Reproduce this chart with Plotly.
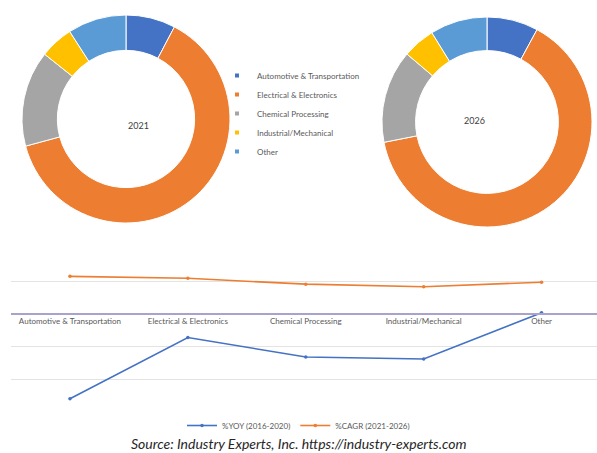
import plotly.graph_objects as go

categories = ["Automotive & Transportation", "Electrical & Electronics", "Chemical Processing",
              "Industrial/Mechanical", "Other"]
share_2021 = [7.7, 63.1, 14.9, 5.2, 9.1]
share_2026 = [7.9, 64.0, 14.3, 5.0, 8.8]
yoy_2016_2020 = [-13.0, -3.6, -6.6, -6.9, 0.2]
cagr_2021_2026 = [5.8, 5.5, 4.6, 4.2, 4.9]
slice_colors = ["#4472c4", "#ed7d31", "#a5a5a5", "#ffc000", "#5b9bd5"]

W, H = 597, 453
def px_x(a, b):
    return [a / W, b / W]
def px_y(top, bottom):
    return [(H - bottom) / H, (H - top) / H]

fig = go.Figure()

for vals, dx, dy, hole in [(share_2021, px_x(22, 230), px_y(15, 223), 0.66),
                           (share_2026, px_x(382, 592), px_y(17, 227), 0.68)]:
    fig.add_trace(go.Pie(
        labels=categories, values=vals, hole=hole, sort=False,
        direction="clockwise", rotation=0, textinfo="none", hoverinfo="label+percent",
        marker=dict(colors=slice_colors, line=dict(color="white", width=1)),
        domain=dict(x=dx, y=dy), showlegend=False,
    ))

# legend entries for the donut categories (small square markers)
for cat, col in zip(categories, slice_colors):
    fig.add_trace(go.Scatter(
        x=[None], y=[None], mode="markers", name=cat,
        marker=dict(symbol="square", size=4, color=col),
        legend="legend", hoverinfo="skip",
    ))

fig.add_trace(go.Scatter(
    x=categories, y=yoy_2016_2020, mode="lines+markers", name="%YOY (2016-2020)",
    line=dict(color="#4472c4", width=1.6), marker=dict(size=3.5, color="#4472c4"),
    legend="legend2",
))
fig.add_trace(go.Scatter(
    x=categories, y=cagr_2021_2026, mode="lines+markers", name="%CAGR (2021-2026)",
    line=dict(color="#ed7d31", width=1.6), marker=dict(size=3.5, color="#ed7d31"),
    legend="legend2",
))

ydom = px_y(248.5, 412.2)
ymin, ymax = -15.08, 10.08
zero_pos = ydom[0] + (0 - ymin) / (ymax - ymin) * (ydom[1] - ydom[0])

fig.update_layout(
    width=W, height=H, margin=dict(l=0, r=0, t=0, b=0, autoexpand=False),
    paper_bgcolor="white", plot_bgcolor="white",
    font=dict(family="Lato, sans-serif", color="#595959"),
    xaxis=dict(type="category", categoryorder="array", categoryarray=categories,
               domain=[11 / W, 1], range=[-0.5, 4.47], anchor="free", position=zero_pos,
               showline=True, linecolor="#a9a3cc", linewidth=1.5, showgrid=False,
               ticks="", tickfont=dict(size=8, color="#595959"), fixedrange=True,
               automargin=False),
    yaxis=dict(domain=ydom, range=[ymin, ymax], dtick=5, tick0=0, showgrid=True,
               gridcolor="#e3e3e3", gridwidth=1, zeroline=False, showticklabels=False,
               ticks="", fixedrange=True, automargin=False),
    legend=dict(x=217 / W, y=(H - 61) / H, xanchor="left", yanchor="top",
                font=dict(size=8, color="#595959"), bgcolor="rgba(0,0,0,0)",
                itemwidth=30, tracegroupgap=0),
    legend2=dict(orientation="h", x=0.5, xanchor="center", y=(H - 411) / H, yanchor="top",
                 font=dict(size=8, color="#595959"), bgcolor="rgba(0,0,0,0)",
                 itemwidth=30),
    annotations=[
        dict(text="2021", x=126 / W, y=(H - 118) / H, xref="paper", yref="paper",
             showarrow=False, font=dict(size=9, color="#404040")),
        dict(text="2026", x=487 / W, y=(H - 113) / H, xref="paper", yref="paper",
             showarrow=False, font=dict(size=9, color="#404040")),
        dict(text="<i>Source: Industry Experts, Inc. https://industry-experts.com</i>",
             x=0.5, y=(H - 443) / H, xref="paper", yref="paper", showarrow=False,
             xanchor="center", yanchor="middle",
             font=dict(size=14, color="#262626")),
    ],
)

fig.write_html("out.html", config={"displayModeBar": False},
               post_script="document.body.style.margin='0';document.body.style.overflow='hidden';")
